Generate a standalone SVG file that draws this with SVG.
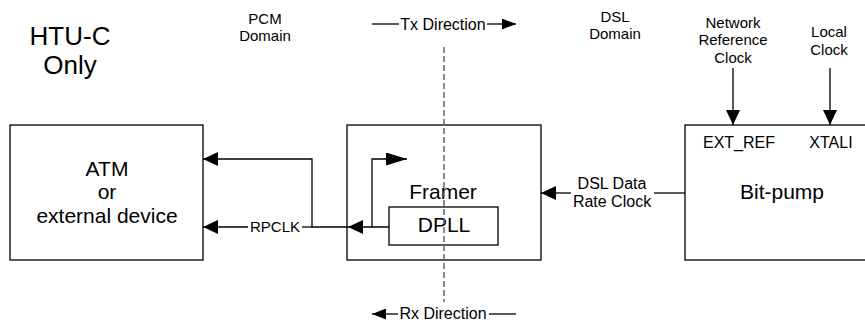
<svg xmlns="http://www.w3.org/2000/svg" width="865" height="322" viewBox="0 0 865 322">
<style>
text{font-family:"Liberation Sans",Arial,sans-serif;fill:#000;text-anchor:middle}
.big{font-size:21px}
.mid{font-size:16px}
.sm{font-size:15px}
.ttl{font-size:26px}
.box{fill:#fff;stroke:#000;stroke-width:1.3}
.ln{fill:none;stroke:#000;stroke-width:1.3}
.dash{fill:none;stroke:#666;stroke-width:1.5;stroke-dasharray:6,3}
</style>
<defs>
<marker id="ah" markerWidth="15" markerHeight="14" refX="15" refY="7" orient="auto" markerUnits="userSpaceOnUse"><path d="M0,0 L15,7 L0,14 Z" fill="#000"/></marker>
<marker id="ahl" markerWidth="21" markerHeight="13" refX="21" refY="6.5" orient="auto" markerUnits="userSpaceOnUse"><path d="M0,0 L21,6.5 L0,13 Z" fill="#000"/></marker>
<marker id="ahs" markerWidth="14" markerHeight="11" refX="14" refY="5.5" orient="auto" markerUnits="userSpaceOnUse"><path d="M0,0 L14,5.5 L0,11 Z" fill="#000"/></marker>
</defs>

<g id="title">
<text class="ttl" x="70" y="45">HTU-C</text>
<text class="ttl" x="70" y="74">Only</text>
</g>
<g id="pcm-domain">
<text class="sm" x="265" y="24">PCM</text>
<text class="sm" x="265" y="41">Domain</text>
</g>
<g id="dsl-domain">
<text class="sm" x="615" y="22">DSL</text>
<text class="sm" x="615" y="39">Domain</text>
</g>
<g id="net-ref-clock">
<text class="sm" x="733" y="28">Network</text>
<text class="sm" x="733" y="45">Reference</text>
<text class="sm" x="733" y="63">Clock</text>
</g>
<g id="local-clock">
<text class="sm" x="829" y="37">Local</text>
<text class="sm" x="829" y="55">Clock</text>
</g>

<g id="atm">
<rect class="box" x="10" y="125" width="193" height="135"/>
<text class="big" x="107" y="176">ATM</text>
<text class="big" x="107" y="199">or</text>
<text class="big" x="107" y="223">external device</text>
</g>

<g id="framer">
<rect class="box" x="347" y="125" width="194" height="135"/>
<text class="big" x="443" y="199">Framer</text>
</g>
<g id="dpll">
<rect class="box" x="389" y="207" width="109" height="38"/>
<text class="big" x="444" y="232">DPLL</text>
</g>

<g id="bitpump">
<rect class="box" x="685" y="125" width="190" height="135"/>
<text class="mid" x="739" y="148">EXT_REF</text>
<text class="mid" x="831" y="148">XTALI</text>
<text class="big" x="782" y="199">Bit-pump</text>
</g>

<g id="direction-labels">
<line class="dash" x1="444" y1="47" x2="444" y2="302"/>
<line class="ln" x1="372" y1="24" x2="399" y2="24"/>
<text class="mid" x="443" y="30">Tx Direction</text>
<line class="ln" x1="487" y1="24" x2="516" y2="24" marker-end="url(#ahs)"/>
<line class="ln" x1="398" y1="314" x2="372" y2="314" marker-end="url(#ahs)"/>
<text class="mid" x="443" y="319">Rx Direction</text>
<line class="ln" x1="489" y1="314" x2="516" y2="314"/>
</g>

<g id="connectors">
<polyline class="ln" points="372,227 372,159 407,159" marker-end="url(#ahl)"/>
<line class="ln" x1="389" y1="227" x2="348" y2="227" marker-end="url(#ah)"/>
<polyline class="ln" points="348,227 312,227 312,159 203,159" marker-end="url(#ah)"/>
<line class="ln" x1="312" y1="227" x2="302" y2="227"/>
<line class="ln" x1="248" y1="227" x2="203" y2="227" marker-end="url(#ah)"/>
<text class="sm" x="275" y="232">RPCLK</text>
<line class="ln" x1="685" y1="193" x2="654" y2="193"/>
<line class="ln" x1="571" y1="193" x2="541" y2="193" marker-end="url(#ah)"/>
<text class="mid" x="612" y="189">DSL Data</text>
<text class="mid" x="612" y="207">Rate Clock</text>
<line class="ln" x1="733" y1="68" x2="733" y2="125" marker-end="url(#ah)"/>
<line class="ln" x1="830" y1="68" x2="830" y2="125" marker-end="url(#ah)"/>
</g>
</svg>
